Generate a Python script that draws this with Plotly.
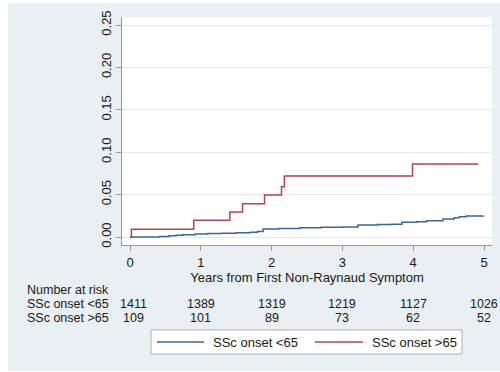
import plotly.graph_objects as go

# ---- data ----
blue_t = [0, 0.42, 0.55, 0.65, 0.75, 0.92, 1.1, 1.3, 1.5, 1.7, 1.80, 1.88, 2.1, 2.4, 2.7, 3.0,
          3.22, 3.5, 3.7, 3.84, 4.05, 4.19, 4.42, 4.58, 4.65, 4.75, 4.99]
blue_v = [0, 0.0007, 0.0014, 0.0021, 0.0028, 0.0035, 0.0040, 0.0045, 0.0050, 0.0055, 0.0065,
          0.0094, 0.0100, 0.0110, 0.0114, 0.0118, 0.0142, 0.0146, 0.0150, 0.0173, 0.0180,
          0.0192, 0.0212, 0.0228, 0.0240, 0.0248, 0.0251]
red_t = [0, 0.02, 0.90, 1.41, 1.59, 1.90, 2.14, 2.18, 3.99, 4.92]
red_v = [0, 0.0092, 0.0197, 0.0295, 0.0393, 0.0495, 0.0593, 0.0719, 0.0861, 0.0861]

series_names = ["SSc onset <65", "SSc onset >65"]
risk_times = [0, 1, 2, 3, 4, 5]
risk_lt65 = [1411, 1389, 1319, 1219, 1127, 1026]
risk_gt65 = [109, 101, 89, 73, 62, 52]
y_ticks = [0.00, 0.05, 0.10, 0.15, 0.20, 0.25]
x_ticks = [0, 1, 2, 3, 4, 5]

BLUE = "#3b6796"
RED = "#b4474e"
BG = "#e9eff2"
FONT = "Liberation Sans, Arial, sans-serif"
FS = 13
TFS = 12.5

W, H = 500, 372
L, R, T, B = 122, 8, 17, 127
PW, PH = W - L - R, H - T - B


def px_x(px):
    return (px - L) / PW


def px_y(py):
    return 1 - (py - T) / PH


fig = go.Figure()
fig.add_trace(go.Scatter(x=blue_t, y=blue_v, mode="lines", line=dict(color=BLUE, width=1.5, shape="hv"),
                         name=series_names[0], showlegend=False))
fig.add_trace(go.Scatter(x=red_t, y=red_v, mode="lines", line=dict(color=RED, width=1.5, shape="hv"),
                         name=series_names[1], showlegend=False))

shapes = [
    dict(type="rect", xref="paper", yref="paper", x0=px_x(8), x1=px_x(500), y0=px_y(371), y1=px_y(3),
         fillcolor=BG, line=dict(width=0), layer="below"),
    dict(type="rect", xref="paper", yref="paper", x0=0, x1=1, y0=0, y1=1,
         fillcolor="white", line=dict(width=0), layer="below"),
    # legend box
    dict(type="rect", xref="paper", yref="paper", x0=px_x(151), x1=px_x(462), y0=px_y(354), y1=px_y(330),
         fillcolor="white", line=dict(color="#b0b0b0", width=1)),
    dict(type="line", xref="paper", yref="paper", x0=px_x(157), x1=px_x(204), y0=px_y(342), y1=px_y(342),
         line=dict(color=BLUE, width=1.5)),
    dict(type="line", xref="paper", yref="paper", x0=px_x(315), x1=px_x(363), y0=px_y(342), y1=px_y(342),
         line=dict(color=RED, width=1.5)),
]

tfont = dict(size=TFS)
annotations = [
    dict(text="Number at risk", xref="paper", yref="paper", x=px_x(26), y=px_y(290),
         xanchor="left", yanchor="middle", showarrow=False, font=tfont, borderpad=0),
    dict(text=series_names[0], xref="paper", yref="paper", x=px_x(26), y=px_y(304),
         xanchor="left", yanchor="middle", showarrow=False, font=tfont, borderpad=0),
    dict(text=series_names[1], xref="paper", yref="paper", x=px_x(26), y=px_y(318),
         xanchor="left", yanchor="middle", showarrow=False, font=tfont, borderpad=0),
    dict(text=series_names[0], xref="paper", yref="paper", x=px_x(212), y=px_y(342),
         xanchor="left", yanchor="middle", showarrow=False, borderpad=0),
    dict(text=series_names[1], xref="paper", yref="paper", x=px_x(371), y=px_y(342),
         xanchor="left", yanchor="middle", showarrow=False, borderpad=0),
]
for t, a, b in zip(risk_times, risk_lt65, risk_gt65):
    shift = 3 if t == 0 else 0
    annotations.append(dict(text=str(a), xref="x", yref="paper", x=t, y=px_y(304), xshift=shift,
                            xanchor="center", yanchor="middle", showarrow=False, font=tfont,
                            borderpad=0))
    annotations.append(dict(text=str(b), xref="x", yref="paper", x=t, y=px_y(318), xshift=shift,
                            xanchor="center", yanchor="middle", showarrow=False, font=tfont,
                            borderpad=0))

x_lo = -(130 - L) / 70.8
x_hi = x_lo + PW / 70.8
y_lo = -(245 - 237) / 848
y_hi = y_lo + PH / 848

fig.update_layout(
    width=W, height=H,
    margin=dict(l=L, r=R, t=T, b=B, pad=0),
    paper_bgcolor="white", plot_bgcolor="white",
    font=dict(family=FONT, size=FS, color="#1a1a1a"),
    shapes=shapes, annotations=annotations,
    xaxis=dict(range=[x_lo, x_hi], tickvals=x_ticks, ticktext=[str(v) for v in x_ticks],
               showgrid=False, zeroline=False, showline=True, linecolor="#9a9a9a", linewidth=1,
               ticks="outside", ticklen=5, tickcolor="#9a9a9a",
               title=dict(text="Years from First Non-Raynaud Symptom", standoff=0,
                          font=dict(size=FS))),
    yaxis=dict(range=[y_lo, y_hi], tickvals=y_ticks, ticktext=["%.2f" % v for v in y_ticks],
               tickangle=-90, showgrid=True, gridcolor="#e4ecef", gridwidth=1, zeroline=False,
               showline=True, linecolor="#9a9a9a", linewidth=1,
               ticks="outside", ticklen=5, tickcolor="#9a9a9a"),
)

fig.write_html("out.html", config={"displayModeBar": False},
               post_script="document.body.style.margin='0';document.body.style.overflow='hidden';")
